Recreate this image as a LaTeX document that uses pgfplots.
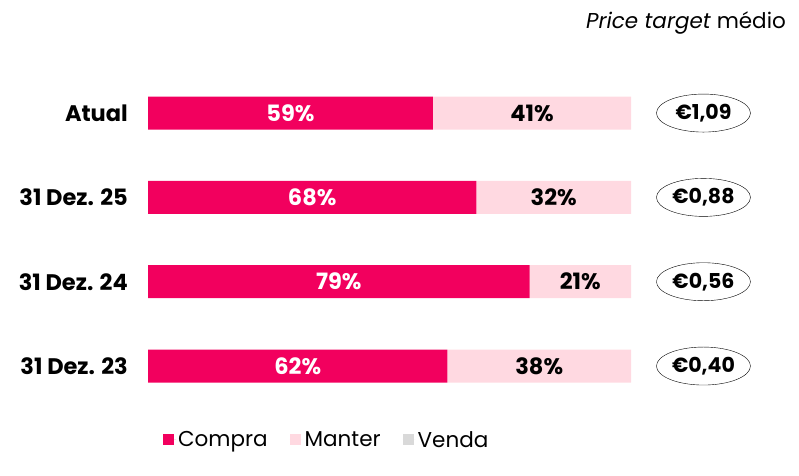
\documentclass[border=0pt]{standalone}
\usepackage{pgfplots}
\usepackage{pgfplotstable}
\pgfplotsset{compat=1.18}
\usetikzlibrary{shapes.geometric}
\usepackage{fontspec}
\setmainfont{Poppins}
\definecolor{compra}{HTML}{F2005E}
\definecolor{manter}{HTML}{FFD9E1}
\definecolor{venda}{HTML}{D9D9D9}
\newcommand{\fs}{\fontsize{21.5}{25}\selectfont}
\newcommand{\fb}{\bfseries\fontsize{22.5}{26}\selectfont}

% cat: 0 = 31 Dez. 23 ... 3 = Atual
\pgfplotstableread{
cat compra manter venda
0   62     38     0
1   79     21     0
2   68     32     0
3   59     41     0
}\recomendacoes

\pgfplotstableread{
cat pos lbl
0   115 €0,40
1   115 €0,56
2   115 €0,88
3   115 €1,09
}\pricetarget

\begin{document}
\begin{tikzpicture}
\useasboundingbox (0,0) rectangle (799pt,475pt);
\node[anchor=base east, font=\fs, inner sep=0pt] at (786pt,446pt) {\textit{Price target} médio};
\begin{axis}[
  at={(148pt,66.8pt)}, anchor=south west,
  scale only axis, width=483pt, height=337.3pt,
  xmin=0, xmax=100, ymin=-0.5, ymax=3.5,
  xbar stacked, bar width=33pt,
  hide x axis, y axis line style={draw=none},
  ytick={0,1,2,3},
  yticklabels={31 Dez. 23,31 Dez. 24,31 Dez. 25,Atual},
  yticklabel style={font=\fb, inner sep=0pt, anchor=east},
  yticklabel shift=20pt,
  major tick length=0pt,
  clip=false,
  /pgf/number format/assume math mode=true,
  legend style={draw=none, fill=none, at={(axis description cs:0.37,-0.094)}, anchor=center,
    legend columns=-1, font=\fs,
    /tikz/every even column/.append style={column sep=20pt}},
  legend image code/.code={\fill[#1] (0pt,-5pt) rectangle (11pt,6pt); \path (0pt,0pt) -- (13pt,0pt);},
]
\addplot[fill=compra, draw=none,
  nodes near coords={\pgfmathprintnumber[fixed,precision=0]{\pgfplotspointmeta}\%},
  point meta=explicit,
  every node near coord/.append style={anchor=center, text=white, font=\fb}]
  table[x=compra, y=cat, meta=compra] {\recomendacoes};
\addlegendentry{Compra}
\addplot[fill=manter, draw=none,
  nodes near coords={\pgfmathprintnumber[fixed,precision=0]{\pgfplotspointmeta}\%},
  point meta=explicit,
  every node near coord/.append style={anchor=center, text=black, font=\fb}]
  table[x=manter, y=cat, meta=manter] {\recomendacoes};
\addlegendentry{Manter}
\addplot[fill=venda, draw=none] table[x=venda, y=cat] {\recomendacoes};
\addlegendentry{Venda}
\end{axis}
\begin{axis}[
  at={(148pt,66.8pt)}, anchor=south west,
  scale only axis, width=483pt, height=337.3pt,
  xmin=0, xmax=100, ymin=-0.5, ymax=3.5,
  hide axis, clip=false,
]
\addplot[draw=none, mark=none, nodes near coords, point meta=explicit symbolic,
  every node near coord/.style={anchor=center, draw=black, thin, ellipse, minimum width=94pt, minimum height=38pt, inner sep=0pt, font=\bfseries\fontsize{20.5}{24}\selectfont}]
  table[x=pos, y=cat, meta=lbl] {\pricetarget};
\end{axis}
\end{tikzpicture}
\end{document}
